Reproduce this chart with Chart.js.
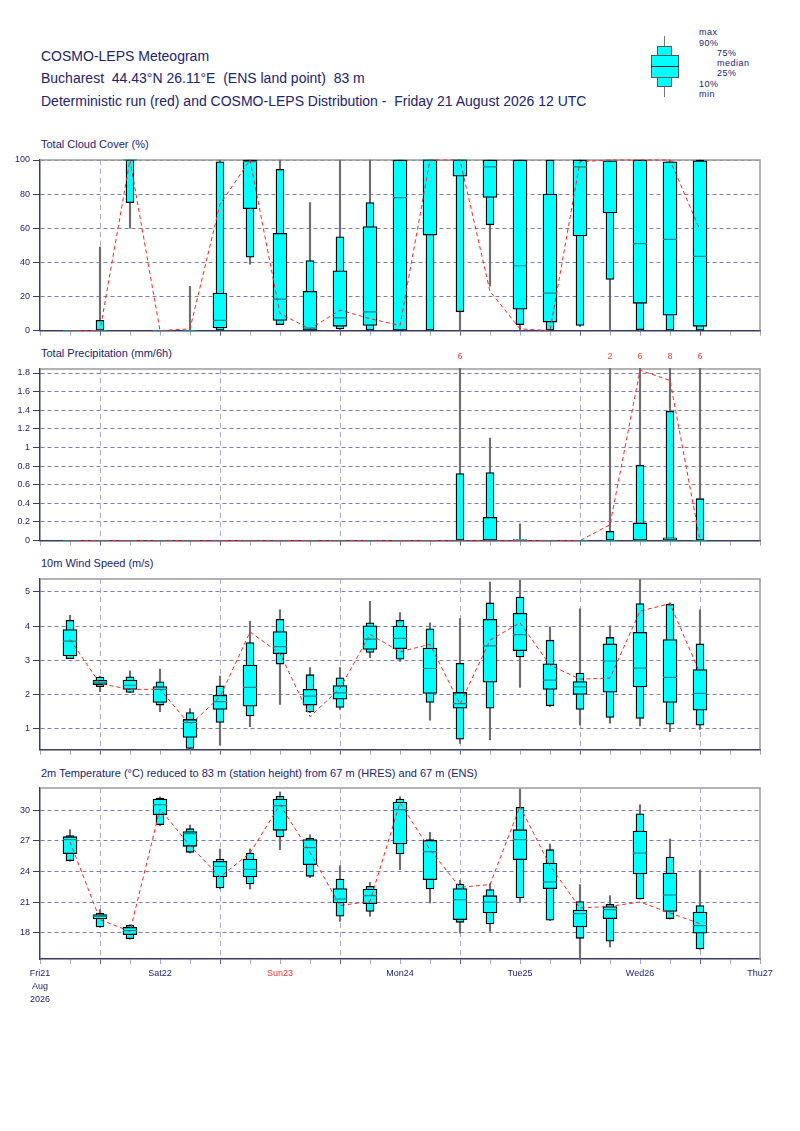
<!DOCTYPE html>
<html>
<head>
<meta charset="utf-8">
<title>COSMO-LEPS Meteogram</title>
<script src="https://cdn.jsdelivr.net/npm/chart.js@4.4.1/dist/chart.umd.min.js"></script>
<style>
  body { margin: 0; background: #fff; }
  #page { position: relative; width: 800px; height: 1131px; font-family: "Liberation Sans", Arial, sans-serif; color: #22226e; overflow: hidden; }
  .t { position: absolute; white-space: pre; }
  .head { font-size: 14px; line-height: 16px; left: 41px; }
  .ptitle { font-size: 11px; line-height: 13px; left: 41px; }
  .lg { font-size: 9px; line-height: 11px; letter-spacing: 0.5px; }
  .ic { position: absolute; box-sizing: border-box; }
  canvas { position: absolute; left: 0; }
</style>
</head>
<body>
<div id="page">
  <div class="t head" style="top:48px">COSMO-LEPS Meteogram</div>
  <div class="t head" style="top:70px">Bucharest  44.43°N 26.11°E  (ENS land point)  83 m</div>
  <div class="t head" style="top:93px">Deterministic run (red) and COSMO-LEPS Distribution -  Friday 21 August 2026 12 UTC</div>

  <!-- legend box -->
  <div class="ic" style="left:663.5px;top:36px;width:1.5px;height:61px;background:#777"></div>
  <div class="ic" style="left:657px;top:46px;width:15px;height:10px;background:#00ffff;border:1px solid #555"></div>
  <div class="ic" style="left:657px;top:77px;width:15px;height:10px;background:#00ffff;border:1px solid #555"></div>
  <div class="ic" style="left:651px;top:55px;width:28px;height:23px;background:#00ffff;border:1px solid #555"></div>
  <div class="ic" style="left:651px;top:65.5px;width:28px;height:1.5px;background:#222"></div>
  <div class="t lg" style="left:699px;top:27px">max</div>
  <div class="t lg" style="left:699px;top:37.5px">90%</div>
  <div class="t lg" style="left:717px;top:47.5px">75%</div>
  <div class="t lg" style="left:717px;top:57.5px">median</div>
  <div class="t lg" style="left:717px;top:68px">25%</div>
  <div class="t lg" style="left:699px;top:78.5px">10%</div>
  <div class="t lg" style="left:699px;top:88.5px">min</div>

  <div class="t ptitle" style="top:137.5px">Total Cloud Cover (%)</div>
  <div class="t ptitle" style="top:346.5px">Total Precipitation (mm/6h)</div>
  <div class="t ptitle" style="top:556.5px">10m Wind Speed (m/s)</div>
  <div class="t ptitle" style="top:767px">2m Temperature (°C) reduced to 83 m (station height) from 67 m (HRES) and 67 m (ENS)</div>

  <canvas id="cloud"></canvas>
  <canvas id="prec"></canvas>
  <canvas id="wind"></canvas>
  <canvas id="temp"></canvas>
</div>

<script>
// forecast steps, hours after Fri21 00 UTC
var hours = [6, 12, 18, 24, 30, 36, 42, 48, 54, 60, 66, 72, 78, 84, 90, 96, 102, 108, 114, 120, 126, 132];
var dayLabels = ['Fri21', 'Sat22', 'Sun23', 'Mon24', 'Tue25', 'Wed26', 'Thu27'];
var firstDayExtra = ['Aug', '2026'];

// total cloud cover (%)
var cloudMin = [0, 0, 60, 0, 0, 0, 39, 3.5, 0, 0, 0, 0, 0, 0, 26, 0, 0, 2.5, 0, 0, 0, 0];
var cloudP10 = [0, 0, 75, 0, 0, 0, 43, 3.5, 0, 1, 0, 0, 0, 11, 62, 3.5, 0, 3, 30, 0.5, 0, 0];
var cloudP25 = [0, 0, 100, 0, 0, 1.5, 71.5, 6, 0, 2.5, 3, 0, 56, 90.5, 78, 12.5, 5, 55.5, 69, 16, 9, 2.5];
var cloudMed = [0, 0, 100, 0, 0, 6, 99, 18.5, 1.5, 7.5, 11, 78, 100, 100, 96, 38, 22, 96, 99.4, 51, 53.5, 43.5];
var cloudP75 = [0, 0, 100, 0, 0, 22, 100, 57, 23, 35, 61, 100, 100, 100, 100, 100, 80, 100, 99.4, 100, 99, 99.5];
var cloudP90 = [0, 6, 100, 0, 0, 99, 100, 94.5, 41, 55, 75, 100, 100, 100, 100, 100, 100, 100, 99.4, 100, 99, 100];
var cloudMax = [0, 49, 100, 0, 26, 100, 100, 100, 75, 100, 100, 100, 100, 100, 100, 100, 100, 100, 100, 100, 100, 100];
var cloudDet = [0, 0, 100, 0, 1, 74, 100, 10, 1, 12, 7, 3, 100, 100, 23, 1, 0, 99, 100, 100, 100, 59];

// total precipitation (mm/6h)
var precMin = [0, 0, 0, 0, 0, 0, 0, 0, 0, 0, 0, 0, 0, 0, 0, 0, 0, 0, 0, 0, 0, 0];
var precP10 = [0, 0, 0, 0, 0, 0, 0, 0, 0, 0, 0, 0, 0, 0, 0, 0, 0, 0, 0, 0, 0, 0];
var precP25 = [0, 0, 0, 0, 0, 0, 0, 0, 0, 0, 0, 0, 0, 0, 0, 0, 0, 0, 0, 0, 0, 0];
var precMed = [0, 0, 0, 0, 0, 0, 0, 0, 0, 0, 0, 0, 0, 0, 0, 0, 0, 0, 0, 0, 0, 0];
var precP75 = [0, 0, 0, 0, 0, 0, 0, 0, 0, 0, 0, 0, 0, 0, 0.25, 0.01, 0, 0, 0, 0.19, 0.03, 0];
var precP90 = [0, 0, 0, 0, 0, 0, 0, 0, 0, 0, 0, 0, 0, 0.72, 0.73, 0.01, 0, 0, 0.1, 0.81, 1.39, 0.45];
var precMax = [0, 0, 0, 0, 0, 0, 0, 0, 0, 0, 0, 0, 0, 6, 1.1, 0.18, 0, 0, 2, 6, 8, 6];
var precDet = [0, 0, 0, 0, 0, 0, 0, 0, 0, 0, 0, 0, 0, 0, 0, 0, 0, 0, 0.17, 1.83, 1.72, 0];

// 10m wind speed (m/s)
var windMin = [3.05, 2.08, 2.05, 1.5, 0.38, 0.52, 1.06, 1.71, 1.47, 1.56, 3.08, 2.97, 1.25, 0.57, 0.67, 2.21, 1.64, 1.11, 1.16, 1.08, 0.91, 0.98];
var windP10 = [3.05, 2.23, 2.06, 1.69, 0.42, 1.18, 1.37, 2.89, 1.49, 1.62, 3.23, 3.03, 1.77, 0.69, 1.6, 3.1, 1.67, 1.56, 1.33, 1.3, 1.13, 1.1];
var windP25 = [3.13, 2.29, 2.15, 1.77, 0.74, 1.56, 1.66, 3.19, 1.69, 1.86, 3.32, 3.34, 2.03, 1.6, 2.36, 3.28, 2.15, 2.0, 2.07, 2.22, 1.77, 1.54];
var windMed = [3.56, 2.36, 2.27, 2.15, 1.18, 1.79, 2.21, 3.4, 1.95, 2.05, 3.62, 3.64, 2.76, 1.73, 3.42, 3.75, 2.42, 2.22, 2.98, 2.77, 2.5, 2.03];
var windP75 = [3.9, 2.42, 2.42, 2.23, 1.27, 1.98, 2.86, 3.84, 2.15, 2.26, 4.01, 4.0, 3.36, 2.06, 4.2, 4.38, 2.9, 2.38, 3.48, 3.82, 3.61, 2.73];
var windP90 = [4.17, 2.51, 2.52, 2.37, 1.47, 2.25, 3.52, 4.2, 2.58, 2.49, 4.1, 4.17, 3.92, 2.91, 4.68, 4.85, 3.59, 2.63, 3.67, 4.66, 4.64, 3.48];
var windMax = [4.32, 2.54, 2.69, 2.74, 1.59, 2.54, 4.14, 4.48, 2.79, 2.79, 4.73, 4.4, 4.1, 4.22, 5.29, 5.34, 3.98, 4.51, 4.01, 5.36, 4.68, 4.48];
var windDet = [3.61, 2.32, 2.15, 2.15, 1.11, 1.93, 3.83, 3.2, 1.35, 2.18, 3.76, 3.25, 3.47, 1.72, 3.59, 4.1, 2.86, 2.45, 2.48, 4.44, 4.66, 2.62];

// 2m temperature (°C)
var tempMin = [25.0, 18.55, 17.4, 28.45, 25.8, 22.3, 22.29, 26.13, 23.4, 19.14, 19.63, 24.18, 20.93, 18.0, 18.16, 20.99, 19.2, 15.4, 16.63, 21.3, 19.35, 16.4];
var tempP10 = [25.06, 18.59, 17.45, 28.57, 25.87, 22.39, 22.78, 27.37, 23.53, 19.63, 20.11, 25.71, 22.29, 19.04, 18.88, 21.41, 19.24, 17.48, 17.19, 21.32, 19.4, 16.44];
var tempP25 = [25.74, 19.37, 17.84, 29.54, 26.46, 23.46, 23.46, 28.02, 24.67, 20.93, 20.86, 26.68, 23.2, 19.3, 19.95, 25.15, 22.33, 18.59, 19.4, 23.76, 20.11, 17.97];
var tempMed = [27.11, 19.63, 18.23, 30.52, 27.69, 24.5, 24.21, 30.42, 26.33, 21.32, 21.64, 30.03, 25.93, 21.25, 21.02, 27.11, 22.98, 19.89, 20.28, 25.8, 21.71, 18.72];
var tempP75 = [27.4, 19.79, 18.55, 31.07, 27.89, 24.99, 25.22, 31.07, 27.11, 22.33, 22.29, 30.78, 27.04, 22.33, 21.64, 28.08, 24.83, 20.24, 20.57, 27.95, 23.85, 20.05];
var tempP90 = [27.5, 19.95, 18.75, 31.17, 28.18, 25.22, 25.8, 31.33, 27.27, 23.27, 22.55, 31.07, 27.11, 22.78, 22.23, 30.26, 26.13, 21.06, 20.8, 29.64, 25.41, 20.67];
var tempMax = [28.08, 20.28, 18.81, 31.27, 28.54, 26.2, 26.2, 31.76, 27.59, 24.57, 22.94, 31.3, 27.82, 23.14, 22.81, 32.05, 26.68, 22.72, 21.64, 30.52, 27.17, 24.11];
var tempDet = [26.9, 19.3, 18.16, 30.1, 26.52, 23.46, 25.8, 30.52, 25.87, 20.67, 21.09, 30.7, 26.13, 22.46, 22.72, 30.36, 24.57, 20.44, 20.6, 21.02, 19.95, 18.91];

var navy = '#22226e';
var cyan = '#00ffff';
var fontFam = '"Liberation Sans", Arial, sans-serif';
var PADT = 16;

function points(vals) {
  return hours.map(function(h, i) { return { x: h, y: vals[i] }; });
}
function ranges(lo, hi) {
  return hours.map(function(h, i) { return { x: h, y: [lo[i], hi[i]] }; });
}

function boxSets(s) {
  return [
    { type: 'line', data: points(s.det), borderColor: '#ff2424', borderWidth: 1, borderDash: [4, 3],
      pointRadius: 0, tension: 0, order: 0, clip: 1 },
    { type: 'line', data: points(s.med), showLine: false, pointStyle: 'line', pointRadius: 7,
      pointBorderColor: '#008c8c', pointBorderWidth: 1.2, order: 1, clip: 1 },
    { type: 'bar', data: ranges(s.p25, s.p75), barThickness: 14, grouped: false, backgroundColor: cyan,
      borderColor: '#000', borderWidth: 1.3, borderSkipped: false, order: 2, clip: 1 },
    { type: 'bar', data: ranges(s.p10, s.p90), barThickness: 8, grouped: false, backgroundColor: cyan,
      borderColor: '#000', borderWidth: 1.3, borderSkipped: false, order: 3, clip: 1 },
    { type: 'bar', data: ranges(s.min, s.max), barThickness: 1.5, grouped: false, backgroundColor: '#6e6e6e',
      borderWidth: 0, order: 4, clip: 1 }
  ];
}

var framePlugin = {
  id: 'frame',
  beforeDatasetsDraw: function(chart) {
    var a = chart.chartArea, c = chart.ctx;
    c.save();
    c.strokeStyle = '#9a9a9a';
    c.lineWidth = 1.5;
    c.beginPath();
    c.moveTo(a.left, a.top);
    c.lineTo(a.right, a.top);
    c.lineTo(a.right, a.bottom);
    c.stroke();
    c.restore();
  }
};

// maxima above the precipitation axis are written over the top
var overflowPlugin = {
  id: 'overflow',
  afterDatasetsDraw: function(chart) {
    var xs = chart.scales.x, ys = chart.scales.y, c = chart.ctx;
    c.save();
    c.fillStyle = '#ff4040';
    c.font = '9px ' + fontFam;
    c.textAlign = 'center';
    c.textBaseline = 'middle';
    hours.forEach(function(h, i) {
      if (precMax[i] > ys.max) c.fillText(String(Math.round(precMax[i])), xs.getPixelForValue(h), chart.chartArea.top - 12);
    });
    c.restore();
  }
};

function makePanel(id, plotTop, plotH, ymin, ymax, step, sets, bottom, extra) {
  var xh = bottom ? 50 : 8;
  var cv = document.getElementById(id);
  cv.width = 800;
  cv.height = PADT + plotH + xh;
  cv.style.top = (plotTop - PADT) + 'px';
  return new Chart(cv, {
    type: 'bar',
    data: { datasets: boxSets(sets) },
    plugins: [framePlugin].concat(extra || []),
    options: {
      responsive: false,
      animation: false,
      events: [],
      layout: { padding: { top: PADT, right: 40, left: 0, bottom: 0 } },
      plugins: { legend: { display: false }, title: { display: false }, tooltip: { enabled: false } },
      scales: {
        x: {
          type: 'linear', min: 0, max: 144, offset: false,
          afterFit: function(s) { s.height = xh; },
          grid: {
            offset: false,
            lineWidth: 1,
            color: function(ctx) { return ctx.tick && ctx.tick.value % 24 === 12 ? '#a9a9d2' : 'rgba(0,0,0,0)'; },
            tickColor: function(ctx) { return ctx.tick && ctx.tick.value % 24 === 12 ? '#5a5a96' : '#a4a4cc'; },
            tickLength: 5
          },
          border: { display: true, color: '#3a3a66', width: 1.5, dash: [5, 4] },
          ticks: {
            display: bottom,
            stepSize: 6, autoSkip: false, maxRotation: 0, padding: 3,
            font: { family: fontFam, size: 9, lineHeight: 1.45 },
            color: function(ctx) { return ctx.tick && ctx.tick.value === 48 ? '#ff3030' : navy; },
            callback: function(v) {
              if (v % 24 !== 0) return '';
              var d = dayLabels[v / 24];
              return v === 0 ? [d].concat(firstDayExtra) : d;
            }
          }
        },
        y: {
          min: ymin, max: ymax,
          afterFit: function(s) { s.width = 40; },
          grid: { color: '#7c7cb2', lineWidth: 1, tickColor: '#3a3a66', tickLength: 7 },
          border: { display: true, color: '#3a3a66', width: 1.5, dash: [4, 3] },
          ticks: {
            stepSize: step, includeBounds: false, padding: 3, color: navy,
            font: { family: fontFam, size: 9 },
            callback: function(v) { return String(Math.round(v * 100) / 100); }
          }
        }
      }
    }
  });
}

makePanel('cloud', 160, 171, 0, 100, 20,
  { min: cloudMin, p10: cloudP10, p25: cloudP25, med: cloudMed, p75: cloudP75, p90: cloudP90, max: cloudMax, det: cloudDet }, false);
makePanel('prec', 369, 172, 0, 1.843, 0.2,
  { min: precMin, p10: precP10, p25: precP25, med: precMed, p75: precP75, p90: precP90, max: precMax, det: precDet }, false, [overflowPlugin]);
makePanel('wind', 579, 171, 0.387, 5.38, 1,
  { min: windMin, p10: windP10, p25: windP25, med: windMed, p75: windP75, p90: windP90, max: windMax, det: windDet }, false);
makePanel('temp', 788.3, 171, 15.46, 32.15, 3,
  { min: tempMin, p10: tempP10, p25: tempP25, med: tempMed, p75: tempP75, p90: tempP90, max: tempMax, det: tempDet }, true);
</script>
</body>
</html>
